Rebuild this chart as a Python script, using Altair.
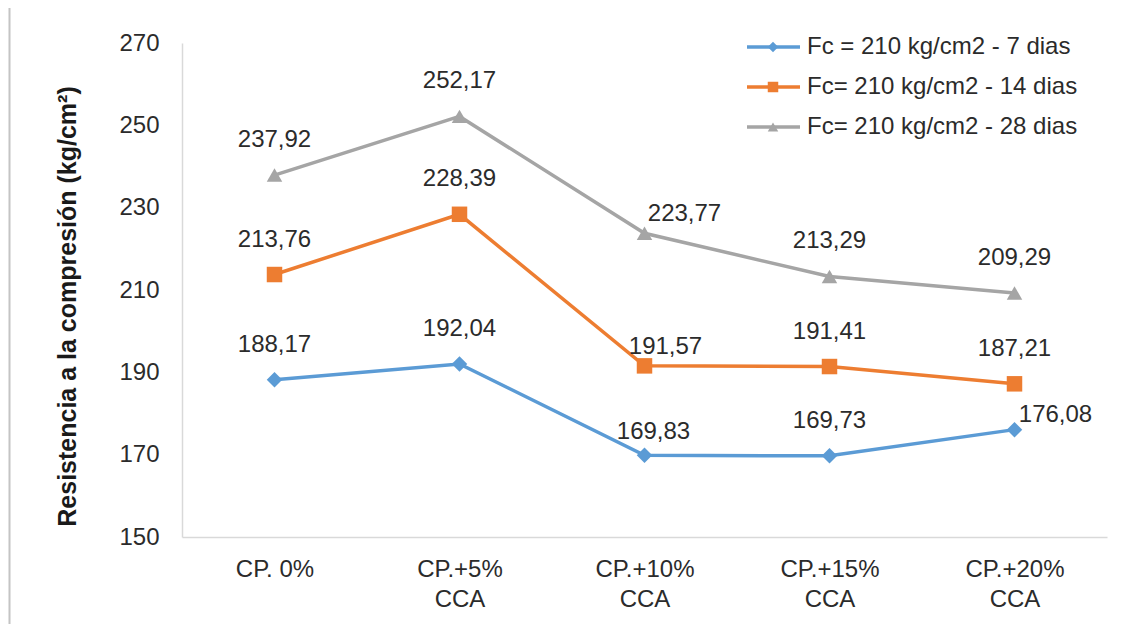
import altair as alt
import pandas as pd

categories = ["CP. 0%", "CP.+5%|CCA", "CP.+10%|CCA", "CP.+15%|CCA", "CP.+20%|CCA"]
series_names = ["Fc = 210 kg/cm2 - 7 dias", "Fc= 210 kg/cm2 - 14 dias", "Fc= 210 kg/cm2 - 28 dias"]
values_7 = [188.17, 192.04, 169.83, 169.73, 176.08]
values_14 = [213.76, 228.39, 191.57, 191.41, 187.21]
values_28 = [237.92, 252.17, 223.77, 213.29, 209.29]
y_ticks = [150, 170, 190, 210, 230, 250, 270]

colors = ["#5B9BD5", "#ED7D31", "#A5A5A5"]
shapes = ["diamond", "square", "triangle-up"]

rows = []
for s, vals in zip(series_names, [values_7, values_14, values_28]):
    for c, v in zip(categories, vals):
        rows.append({"cat": c, "series": s, "value": v,
                     "label": f"{v:.2f}".replace(".", ",")})
df = pd.DataFrame(rows)
leg_df = pd.DataFrame({"series": series_names})

W, H = 925, 494
FONT = "Liberation Sans"
FS = 24
TXT = "#2b2b2b"

color_scale = alt.Scale(domain=series_names, range=colors)
shape_scale = alt.Scale(domain=series_names, range=shapes)
y_scale = alt.Scale(domain=[150, 270], nice=False, zero=False)
x_enc = alt.X("cat:N", sort=categories,
              scale=alt.Scale(type="point", padding=0.5),
              axis=alt.Axis(title=None, labelExpr="split(datum.value, '|')",
                            labelAngle=0, ticks=False, domainColor="#d9d9d9",
                            domainWidth=1.5, labelFontSize=FS, labelFont=FONT,
                            labelColor=TXT, labelPadding=32,
                            labelLineHeight=30, labelBaseline="middle"))
y_enc = alt.Y("value:Q", scale=y_scale,
              axis=alt.Axis(values=y_ticks, grid=False, ticks=False,
                            domainColor="#d9d9d9", domainWidth=1.5,
                            labelFontSize=FS, labelFont=FONT, labelColor=TXT,
                            labelPadding=23,
                            title="Resistencia a la compresión (kg/cm²)",
                            titleFontSize=25, titleFont=FONT, titleFontWeight="bold",
                            titleColor="#1a1a1a", titleAngle=-90, titleX=-115,
                            titleY=263, titleAlign="center", titleBaseline="middle"))

base = alt.Chart(df).encode(x=x_enc, y=y_enc)

lines = base.mark_line(strokeWidth=3.5).encode(
    color=alt.Color("series:N", scale=color_scale, legend=None),
    detail="series:N")
points = base.mark_point(filled=True, opacity=1, size=240).encode(
    color=alt.Color("series:N", scale=color_scale, legend=None),
    shape=alt.Shape("series:N", scale=shape_scale, legend=None))

# label nudges (series index, category index) -> (dx, dy)
nudges = {(2, 2): (40, -19), (1, 2): (21, -19), (0, 2): (9, -23), (0, 4): (41, -15)}
text_layers = []
cond_parts = []
for (si, ci), (dx, dy) in nudges.items():
    expr = f"datum.series == '{series_names[si]}' && datum.cat == '{categories[ci]}'"
    cond_parts.append(f"({expr})")
    text_layers.append(base.transform_filter(expr).mark_text(
        fontSize=FS, font=FONT, color=TXT, dx=dx, dy=dy,
        baseline="middle").encode(text="label:N"))
text_layers.insert(0, base.transform_filter("!(" + " || ".join(cond_parts) + ")").mark_text(
    fontSize=FS, font=FONT, color=TXT, dy=-35, baseline="middle").encode(text="label:N"))

main = alt.layer(lines, points, *text_layers)

leg_base = alt.Chart(leg_df).encode(
    y=alt.Y("series:N", sort=series_names,
            scale=alt.Scale(type="point", domain=series_names, range=[4, 84], padding=0),
            axis=None))
leg_rule = leg_base.mark_rule(strokeWidth=3.5).encode(
    x=alt.value(565), x2=alt.value(618),
    color=alt.Color("series:N", scale=color_scale, legend=None))
leg_pt = leg_base.mark_point(filled=True, opacity=1, size=110).encode(
    x=alt.value(591),
    color=alt.Color("series:N", scale=color_scale, legend=None),
    shape=alt.Shape("series:N", scale=shape_scale, legend=None))
leg_txt = leg_base.mark_text(align="left", baseline="middle", fontSize=FS, font=FONT,
                             color=TXT).encode(x=alt.value(625), text="series:N")
legend = alt.layer(leg_rule, leg_pt, leg_txt)

frame_df = pd.DataFrame({"a": [0]})
frame_left = alt.Chart(frame_df).mark_rect(color="#c4c4c4", opacity=1).encode(
    x=alt.value(-173.5), x2=alt.value(-171.5), y=alt.value(-37), y2=alt.value(H + 90))
frame_top = alt.Chart(frame_df).mark_rect(color="#c4c4c4", opacity=1).encode(
    x=alt.value(-173.5), x2=alt.value(W + 11), y=alt.value(-37), y2=alt.value(-35))

chart = alt.layer(frame_left, frame_top, main, legend).resolve_scale(y="independent").properties(
    width=W, height=H,
    autosize=alt.AutoSizeParams(type="none"),
    padding={"left": 174, "top": 35, "right": 11, "bottom": 87},
).configure(background="white", view=alt.ViewConfig(stroke=None))

chart.save("out.html", embed_options={"renderer": "svg", "actions": False})
